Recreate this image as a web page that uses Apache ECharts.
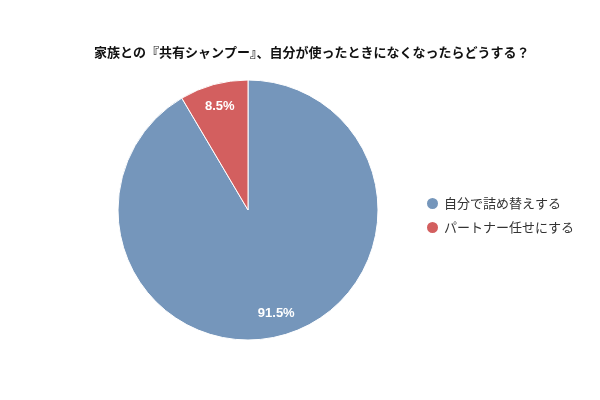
<!DOCTYPE html>
<html>
<head>
<meta charset="utf-8">
<script src="https://cdn.jsdelivr.net/npm/echarts@6/dist/echarts.min.js"></script>
<style>html,body{margin:0;padding:0;background:#fff}#c{width:600px;height:400px}</style>
</head>
<body>
<div id="c"></div>
<script>
const titleText = '家族との『共有シャンプー』、自分が使ったときになくなったらどうする？';
const categories = ['自分で詰め替えする', 'パートナー任せにする'];
const values = [91.5, 8.5];
const colors = ['#7596bb', '#d35f5f'];

const FONT = '"Noto Sans CJK JP", "Noto Sans", sans-serif';
const NUMFONT = '"Liberation Sans", Arial, sans-serif';
const data = categories.map((n, i) => ({ name: n, value: values[i], itemStyle: { color: colors[i] } }));
const chart = echarts.init(document.getElementById('c'), null, { renderer: 'canvas' });
chart.setOption({
  animation: false,
  textStyle: { fontFamily: FONT },
  title: {
    text: titleText,
    left: 89,
    top: 41,
    textStyle: { fontSize: 13, fontWeight: 'bold', color: '#111', fontFamily: FONT }
  },
  legend: {
    orient: 'vertical',
    left: 420,
    top: 191,
    icon: 'circle',
    itemWidth: 13,
    itemHeight: 13,
    itemGap: 9,
    data: categories,
    textStyle: { fontSize: 13, color: '#333', fontFamily: FONT }
  },
  series: [
    {
      type: 'pie',
      center: [248, 210],
      radius: [0, 130],
      startAngle: 90,
      clockwise: true,
      data: data,
      label: { show: false },
      labelLine: { show: false },
      itemStyle: { borderColor: '#fff', borderWidth: 1 },
      emphasis: { disabled: true }
    },
    {
      type: 'pie',
      center: [248, 210],
      radius: [80, 128],
      startAngle: 90,
      clockwise: true,
      silent: true,
      data: categories.map((n, i) => ({ name: n, value: values[i], itemStyle: { color: 'rgba(0,0,0,0)' } })),
      label: {
        show: true,
        position: 'inside',
        formatter: p => p.value.toFixed(1) + '%',
        color: '#fff',
        fontSize: 13,
        fontWeight: 'bold',
        fontFamily: NUMFONT
      },
      labelLine: { show: false },
      emphasis: { disabled: true }
    }
  ]
});
</script>
</body>
</html>
